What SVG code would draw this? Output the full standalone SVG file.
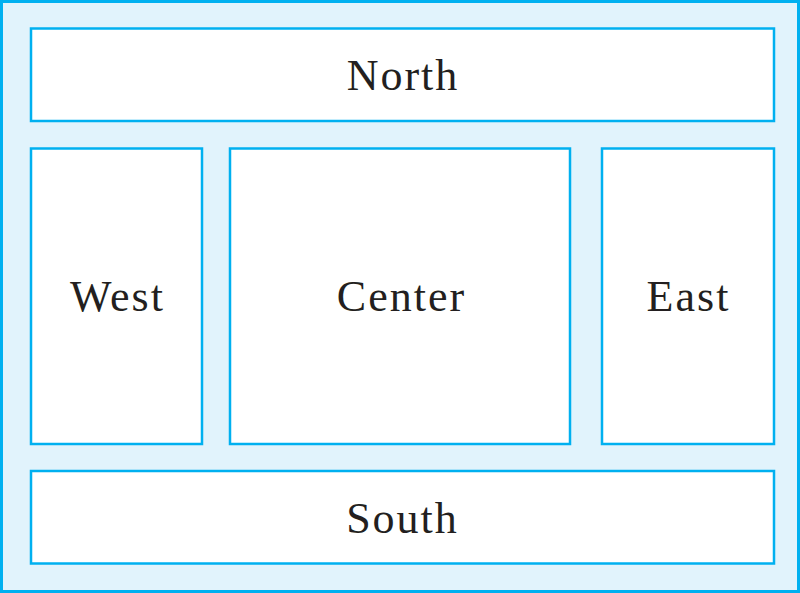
<svg xmlns="http://www.w3.org/2000/svg" width="800" height="593" viewBox="0 0 800 593">
<style>
.bg{fill:#E1F3FC;stroke:#00B0F0;stroke-width:3}
.box{fill:#FFFFFF;stroke:#00B0F0;stroke-width:2.5}
.lbl{font-family:"Liberation Serif","Times New Roman",serif;font-size:44px;letter-spacing:2px;fill:#231F20;text-anchor:middle}
</style>
<rect class="bg" x="1.5" y="1.5" width="797" height="590"/>
<g id="north"><rect class="box" x="31" y="28.5" width="743" height="92.5"/><text class="lbl" x="403" y="90">North</text></g>
<g id="west"><rect class="box" x="31" y="148.5" width="171" height="295.5"/><text class="lbl" x="117.5" y="311">West</text></g>
<g id="center"><rect class="box" x="230" y="148.5" width="340" height="295.5"/><text class="lbl" x="401.5" y="311">Center</text></g>
<g id="east"><rect class="box" x="602" y="148.5" width="172" height="295.5"/><text class="lbl" x="688.5" y="311">East</text></g>
<g id="south"><rect class="box" x="31" y="471" width="743" height="92.5"/><text class="lbl" x="402.5" y="533">South</text></g>
<g id="connectors"/>
</svg>
